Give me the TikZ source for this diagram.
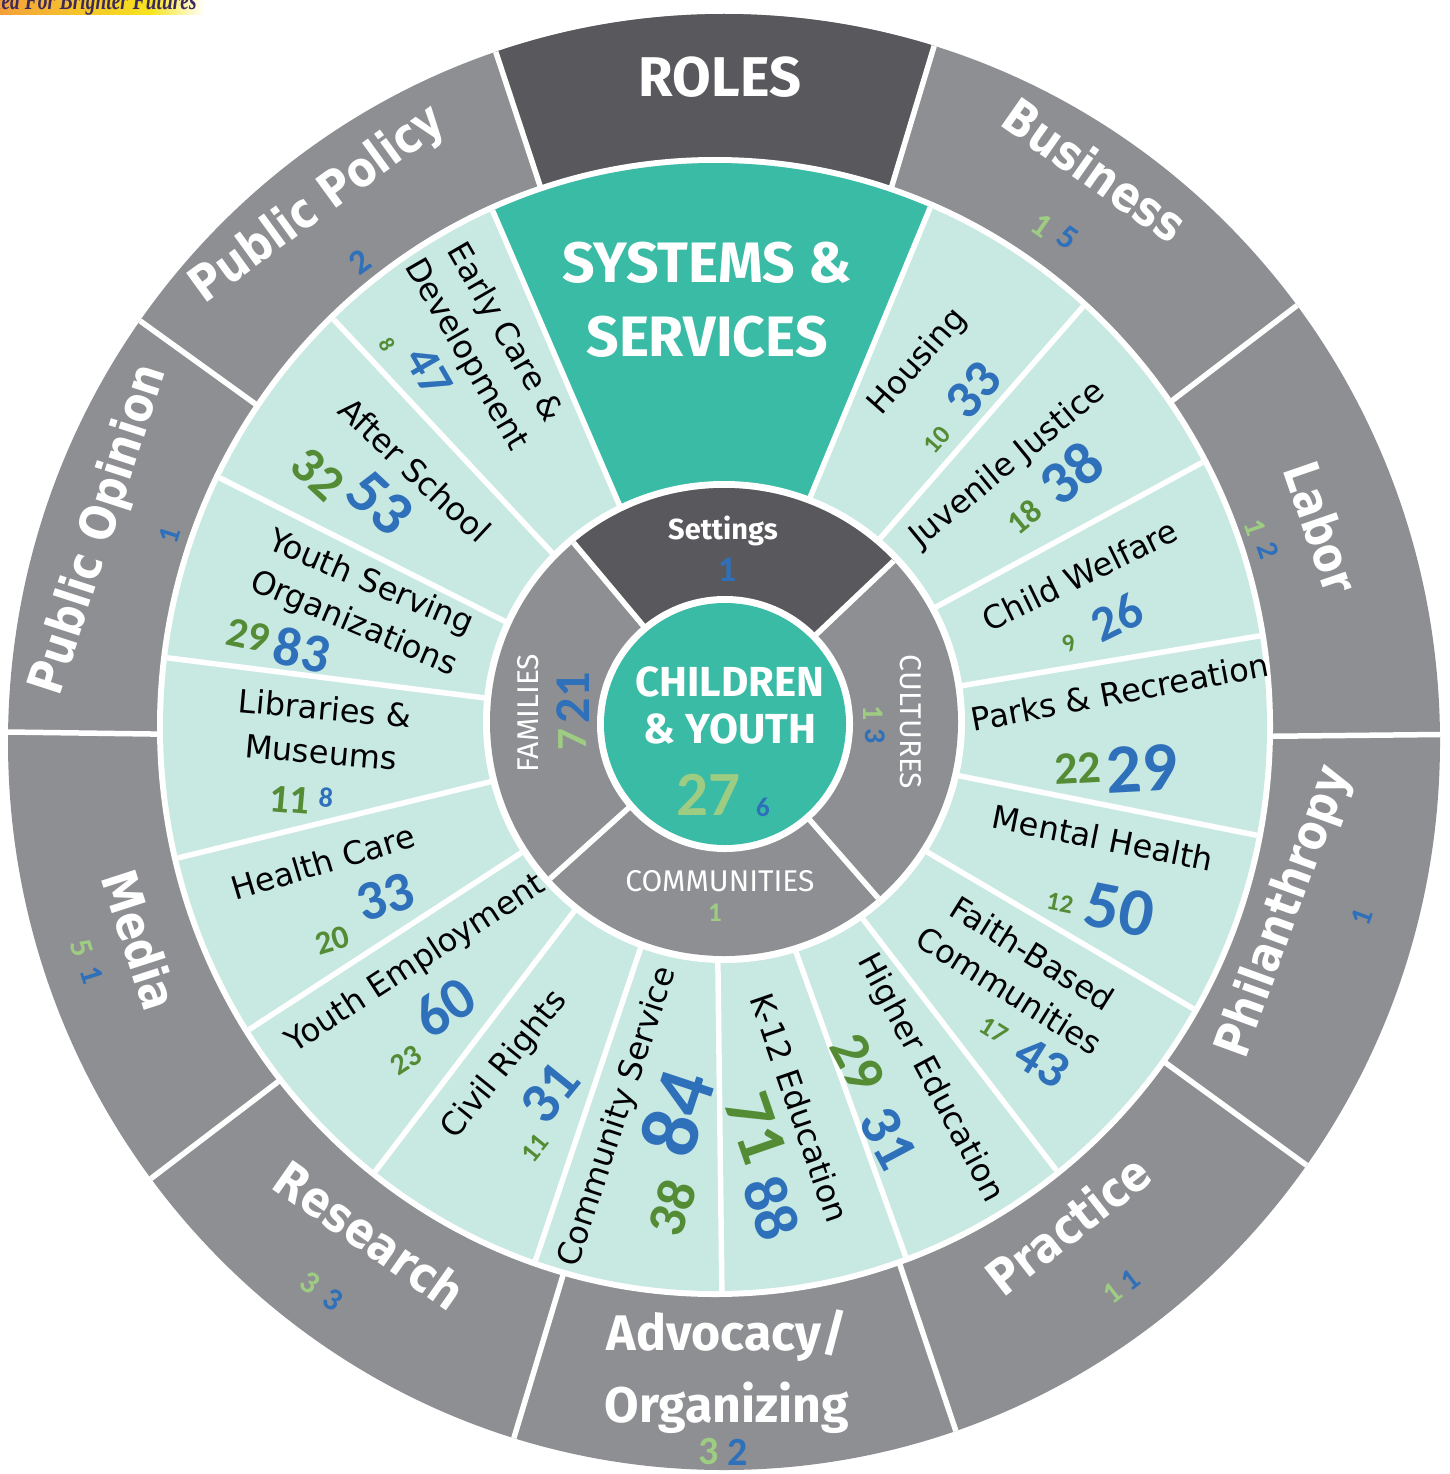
\documentclass[tikz,border=0pt]{standalone}
\usepackage{fontspec}
\setmainfont{DejaVu Sans}
\newfontfamily\headfont{Fira Sans}
\newfontfamily\numfont{Carlito}
\newfontfamily\logofont{Liberation Serif}
\newcommand{\narrow}[1]{\scalebox{0.86}[1]{#1}}
\definecolor{ring-gray}{RGB}{142,143,146}
\definecolor{ring-dark}{RGB}{89,89,93}
\definecolor{ring-mint}{RGB}{200,232,226}
\definecolor{ring-teal}{RGB}{58,187,165}
\definecolor{num-green}{RGB}{84,139,53}
\definecolor{num-lgreen}{RGB}{158,204,130}
\definecolor{num-blue}{RGB}{46,112,186}
\definecolor{logo-orange}{RGB}{244,160,58}
\definecolor{logo-yellow}{RGB}{246,228,30}
\definecolor{logo-ink}{RGB}{60,40,90}

\begin{document}
\begin{tikzpicture}[x=1pt, y=-1pt]
      \tikzset{ sep/.style  ={draw=white, line width=5.5pt} }
      \tikzset{ role/.style ={text=white, inner sep=0pt, font=\bfseries\fontsize{49}{49}\selectfont} }
      \tikzset{ area/.style ={text=black, inner sep=0pt, align=center, font=\fontsize{32}{44}\selectfont} }
      \tikzset{ core/.style ={text=white, inner sep=0pt, align=center, font=\headfont\fontsize{30}{30}\selectfont} }
      \tikzset{ gnum/.style ={text=num-green,  inner sep=0pt, font=\numfont\bfseries\fontsize{#1}{#1}\selectfont} }
      \tikzset{ lnum/.style ={text=num-lgreen, inner sep=0pt, font=\numfont\bfseries\fontsize{#1}{#1}\selectfont} }
      \tikzset{ bnum/.style ={text=num-blue,   inner sep=0pt, font=\numfont\bfseries\fontsize{#1}{#1}\selectfont} }
      \useasboundingbox (0,0) rectangle (1449,1474);

      % logo strip, cut at the top
      \shade[left color=logo-orange, right color=logo-yellow] (0,0) rectangle (150,15);
      \shade[left color=logo-yellow, right color=white]        (150,0) rectangle (205,15);
      \node[anchor=base west, inner sep=0pt, text=logo-ink, font=\logofont\bfseries\itshape\fontsize{27}{27}\selectfont] (logo) at (-4,10) {\scalebox{0.72}[1]{ied For Brighter Futures}};

      % roles ring
      \fill[ring-gray] (724,742) ellipse [x radius=716, y radius=728];
      \begin{scope}[shift={(724,742)}]
        \clip (0,0) ellipse [x radius=716, y radius=728];
        \fill[ring-dark] (0,0) -- (-108.3:900) -- (-90:900) -- (-73.2:900) -- cycle;
        \draw[sep] (0,0) -- (-108.3:760);  \draw[sep] (0,0) -- (-73.2:760);
        \draw[sep] (0,0) -- (-37.3:760);   \draw[sep] (0,0) -- (-0.6:760);
        \draw[sep] (0,0) -- (36:760);      \draw[sep] (0,0) -- (71.4:760);
        \draw[sep] (0,0) -- (106.8:760);   \draw[sep] (0,0) -- (142.7:760);
        \draw[sep] (0,0) -- (180.8:760);   \draw[sep] (0,0) -- (-144.2:760);
      \end{scope}

      % systems & services ring
      \fill[white]     (715,727) ellipse [x radius=558, y radius=570];
      \fill[ring-mint] (715,727) ellipse [x radius=552, y radius=564];
      \begin{scope}[shift={(715,727)}]
        \clip (0,0) ellipse [x radius=552, y radius=564];
        \fill[ring-teal] (0,0) -- (-113.3:700) -- (-90:700) -- (-67.5:700) -- cycle;
        \draw[sep] (0,0) -- (-113.3:600); \draw[sep] (0,0) -- (-67.5:600);
        \draw[sep] (0,0) -- (-48.8:600);  \draw[sep] (0,0) -- (-28.5:600);
        \draw[sep] (0,0) -- (-9.5:600);   \draw[sep] (0,0) -- (11.3:600);
        \draw[sep] (0,0) -- (30.5:600);   \draw[sep] (0,0) -- (52.4:600);
        \draw[sep] (0,0) -- (70.2:600);   \draw[sep] (0,0) -- (89.3:600);
        \draw[sep] (0,0) -- (108.6:600);  \draw[sep] (0,0) -- (127.4:600);
        \draw[sep] (0,0) -- (147:600);    \draw[sep] (0,0) -- (166.3:600);
        \draw[sep] (0,0) -- (-172.8:600); \draw[sep] (0,0) -- (-153.3:600);
        \draw[sep] (0,0) -- (-133.1:600);
      \end{scope}

      % settings ring and centre
      \fill[white]     (724,722) circle [radius=241];
      \fill[ring-gray] (724,722) circle [radius=234];
      \begin{scope}[shift={(724,722)}]
        \clip (0,0) circle [radius=234];
        \fill[ring-dark] (0,0) -- (-43.5:300) -- (-90:300) -- (-130:300) -- cycle;
        \draw[sep] (0,0) -- (-43.5:260); \draw[sep] (0,0) -- (-130:260);
        \draw[sep] (0,0) -- (138:260);   \draw[sep] (0,0) -- (48.8:260);
      \end{scope}
      \fill[white]     (725,724) circle [radius=128];
      \fill[ring-teal] (725,724) circle [radius=121];

      % roles labels
      \node[core, font=\headfont\bfseries\fontsize{56}{56}\selectfont] (roles) at (720,77) {ROLES};
      \node[role, rotate=-35] (business)   at (1095,170)  {\narrow{Business}};
      \node[role, rotate=-71] (labor)      at (1322,527)  {\narrow{Labor}};
      \node[role, rotate=70]  (philan)     at (1285,912)  {\narrow{Philanthropy}};
      \node[role, rotate=38]  (practice)   at (1068,1225) {\narrow{Practice}};
      \node[core, font=\headfont\bfseries\fontsize{50}{72}\selectfont] (advocacy) at (727,1372) {Advocacy/\\Organizing};
      \node[role, rotate=-35] (research)   at (370,1235)  {\narrow{Research}};
      \node[role, rotate=-72] (media)      at (140,940)   {\narrow{Media}};
      \node[role, rotate=72]  (opinion)    at (100,530)   {\narrow{Public Opinion}};
      \node[role, rotate=36]  (policy)     at (318,205)   {\narrow{Public Policy}};

      \node[lnum=34, rotate=-35] (business_g) at (1042,225)  {1};
      \node[bnum=34, rotate=-35] (business_b) at (1068,238)  {5};
      \node[lnum=30, rotate=-71] (labor_g)    at (1255,528)  {1};
      \node[bnum=30, rotate=-71] (labor_b)    at (1268,550)  {2};
      \node[bnum=30, rotate=70]  (philan_b)   at (1362,917)  {1};
      \node[lnum=30, rotate=38]  (practice_g) at (1112,1293) {1};
      \node[bnum=30, rotate=38]  (practice_b) at (1130,1280) {1};
      \node[lnum=40]             (advocacy_g) at (709,1452)  {3};
      \node[bnum=40]             (advocacy_b) at (738,1452)  {2};
      \node[lnum=32, rotate=-35] (research_g) at (310,1283)  {3};
      \node[bnum=32, rotate=-35] (research_b) at (333,1300)  {3};
      \node[lnum=32, rotate=-72] (media_g)    at (82,948)    {5};
      \node[bnum=32, rotate=-72] (media_b)    at (92,975)    {1};
      \node[bnum=30, rotate=72]  (opinion_b)  at (170,535)   {1};
      \node[bnum=35, rotate=36]  (policy_b)   at (360,262)   {2};

      % systems & services labels
      \node[core, font=\headfont\bfseries\fontsize{57}{74}\selectfont] (systems) at (707,300) {SYSTEMS \&\\SERVICES};
      \node[area, rotate=48.6]  (housing)   at (918,362)  {Housing};
      \node[area, rotate=39.4]  (juvenile)  at (1008,465) {Juvenile Justice};
      \node[area, rotate=26]    (welfare)   at (1080,575) {Child Welfare};
      \node[area, rotate=10.6]  (parks)     at (1120,692) {Parks \& Recreation};
      \node[area, rotate=-11.2] (mental)    at (1103,838) {Mental Health};
      \node[area, rotate=-32]   (faith)     at (1021,972) {Faith-Based\\Communities};
      \node[area, rotate=-62]   (higher)    at (930,1078) {Higher Education};
      \node[area, rotate=-71]   (ktwelve)   at (800,1108) {K-12 Education};
      \node[area, rotate=71.7]  (service)   at (618,1117) {Community Service};
      \node[area, rotate=51]    (civil)     at (505,1065) {Civil Rights};
      \node[area, rotate=33]    (employ)    at (416,964)  {Youth Employment};
      \node[area, rotate=16.7]  (health)    at (323,862)  {Health Care};
      \node[area, rotate=-5]    (library)   at (323,730)  {Libraries \&\\Museums};
      \node[area, rotate=-23]   (serving)   at (362,604)  {Youth Serving\\Organizations};
      \node[area, rotate=-43]   (after)     at (415,470)  {After School};
      \node[area, rotate=-60]   (early)     at (485,344)  {Early Care \&\\Development};

      \node[gnum=26, rotate=48.6]  (housing_g)  at (937,440)   {10};
      \node[bnum=54, rotate=48.6]  (housing_b)  at (973,390)   {33};
      \node[gnum=33, rotate=39.4]  (juvenile_g) at (1024,517)  {18};
      \node[bnum=61, rotate=39.4]  (juvenile_b) at (1071,473)  {38};
      \node[gnum=25, rotate=26]    (welfare_g)  at (1069,643)  {9};
      \node[bnum=50, rotate=26]    (welfare_b)  at (1117,617)  {26};
      \node[gnum=46, rotate=3]     (parks_g)    at (1078,768)  {22};
      \node[bnum=70, rotate=3]     (parks_b)    at (1142,769)  {29};
      \node[gnum=26, rotate=-11.2] (mental_g)   at (1060,903)  {12};
      \node[bnum=68, rotate=-11.2] (mental_b)   at (1120,910)  {50};
      \node[gnum=27, rotate=-32]   (faith_g)    at (994,1030)  {17};
      \node[bnum=52, rotate=-32]   (faith_b)    at (1042,1062) {43};
      \node[gnum=56, rotate=-62]   (higher_g)   at (858,1063)  {29};
      \node[bnum=59, rotate=-62]   (higher_b)   at (888,1138)  {31};
      \node[gnum=68, rotate=-71]   (ktwelve_g)  at (756,1128)  {71};
      \node[bnum=62, rotate=-71]   (ktwelve_b)  at (772,1208)  {88};
      \node[gnum=54, rotate=71.7]  (service_g)  at (672,1208)  {38};
      \node[bnum=82, rotate=71.7]  (service_b)  at (677,1113)  {84};
      \node[gnum=27, rotate=51]    (civil_g)    at (535,1148)  {11};
      \node[bnum=58, rotate=51]    (civil_b)    at (550,1093)  {31};
      \node[gnum=30, rotate=33]    (employ_g)   at (406,1060)  {23};
      \node[bnum=59, rotate=33]    (employ_b)   at (445,1007)  {60};
      \node[gnum=33, rotate=16.7]  (health_g)   at (332,940)   {20};
      \node[bnum=56, rotate=16.7]  (health_b)   at (385,897)   {33};
      \node[gnum=40, rotate=-5]    (library_g)  at (290,800)   {11};
      \node[bnum=28, rotate=-5]    (library_b)  at (326,798)   {8};
      \node[gnum=42, rotate=-12]   (serving_g)  at (248,635)   {29};
      \node[bnum=55, rotate=-12]   (serving_b)  at (302,650)   {83};
      \node[gnum=51, rotate=-43]   (after_g)    at (318,474)   {32};
      \node[bnum=63, rotate=-43]   (after_b)    at (380,503)   {53};
      \node[gnum=22, rotate=-60]   (early_g)    at (387,345)   {8};
      \node[bnum=48, rotate=-60]   (early_b)    at (429,372)   {47};

      % settings ring labels
      \node[core, font=\headfont\bfseries\fontsize{29}{29}\selectfont] (settings) at (723,531) {Settings};
      \node[core, rotate=90]  (families)    at (528,713) {FAMILIES};
      \node[core, rotate=-90] (cultures)    at (911,722) {CULTURES};
      \node[core]             (communities) at (720,881) {COMMUNITIES};
      \node[core, font=\headfont\bfseries\fontsize{42}{47}\selectfont] (children) at (730,705) {CHILDREN\\\& YOUTH};

      \node[bnum=36]             (settings_b)    at (727,570) {1};
      \node[bnum=50, rotate=90]  (families_b)    at (573,698) {21};
      \node[lnum=43, rotate=90]  (families_g)    at (573,740) {7};
      \node[lnum=30, rotate=-90] (cultures_g)    at (873,713) {1};
      \node[bnum=30, rotate=-90] (cultures_b)    at (875,736) {3};
      \node[lnum=27]             (communities_g) at (715,913) {1};
      \node[lnum=63]             (children_g)    at (708,795) {27};
      \node[bnum=27]             (children_b)    at (763,807) {6};
\end{tikzpicture}
\end{document}
